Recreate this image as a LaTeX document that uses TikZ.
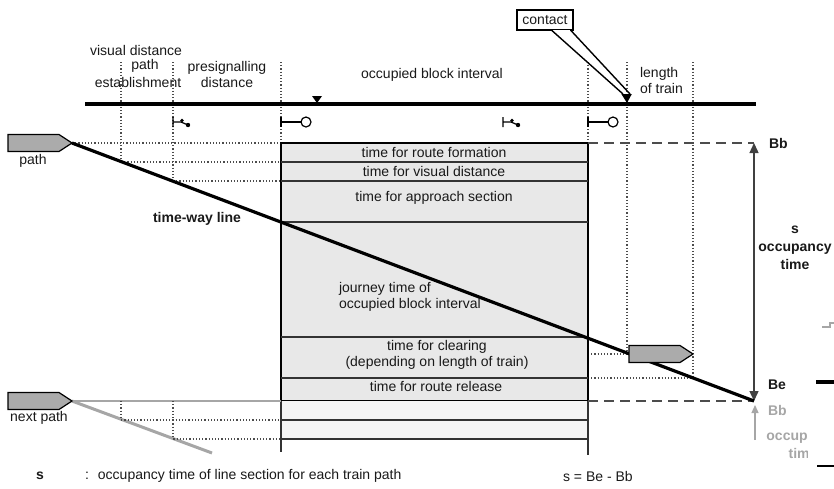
\documentclass[tikz,border=0pt]{standalone}
\usepackage{fontspec}
\setmainfont{Liberation Sans}
\usetikzlibrary{arrows.meta,positioning}

\tikzset{
  train/.pic={
    \draw[fill=black!33, line width=0.6pt] (0,-8.5) -- (51,-8.5) -- (64,0) -- (51,8.5) -- (0,8.5) -- cycle;
  },
  mainsig/.pic={
    \draw[line width=0.6pt] (0,-5) -- (0,5) (0,0) -- (20,0);
    \draw[line width=0.6pt, fill=white] (25,0) circle (2.5pt);
  },
  presig/.pic={
    \draw[line width=0.6pt] (0,-5) -- (0,5) (0,0) -- (8,0) -- (15,3);
    \fill (9,-1.5) circle (0.9pt) (15,3) circle (1.1pt);
  }
}

\begin{document}
\begin{tikzpicture}[x=0.5pt, y=-0.5pt, font=\fontsize{7}{8}\selectfont, text=black!90,
    track/.style={line width=2.2pt},
    guide/.style={densely dotted, line width=0.6pt, black!70},
    row/.style={line width=0.7pt, black!80},
    limit/.style={dash pattern=on 5pt off 3pt, line width=0.9pt, black!70},
    bold/.style={font=\fontsize{7}{9}\selectfont\bfseries},
    ghost/.style={black!35}]
  \useasboundingbox (0,0) rectangle (834,488);

  % key points
  \coordinate (pathtip) at (72,143);
  \coordinate (nexttip) at (72,401);
  \coordinate (Bb) at (754,143);
  \coordinate (Be) at (754,401);
  \coordinate (contactpt) at (627,103);

  % guide lines
  \foreach \x/\y in {121/162, 173/181, 281/143, 588/143, 627/354, 693/378}
    \draw[guide] (\x,62) -- (\x,\y);
  \draw[guide] (pathtip) -- (281,143);
  \draw[guide] (121,162) -- (281,162);
  \draw[guide] (173,181) -- (281,181);
  \draw[guide] (588,354) -- (627,354);
  \draw[guide] (588,378) -- (693,378);

  % occupied block
  \draw[fill=black!9, line width=1.1pt] (281,143) rectangle (588,401);
  \foreach \y in {162,181,222,337,378}
    \draw[row] (281,\y) -- (588,\y);
  \fill[black!4] (281,401) rectangle (588,439);
  \draw[row] (281,420) -- (588,420) (281,439) -- (588,439);
  \draw[line width=0.9pt, black!80] (281,401) -- (281,452) (588,401) -- (588,455);

  % next path
  \draw[ghost, line width=0.8pt] (nexttip) -- (281,401);
  \draw[ghost, line width=1.5pt] (nexttip) -- (212,453);
  \draw[guide] (121,401) -- (121,420) -- (281,420);
  \draw[guide] (173,401) -- (173,439) -- (281,439);

  % track and signals
  \draw[track] (85,104) -- (756,104);
  \fill (312,96) -- (322,96) -- (317,103) -- cycle;
  \pic at (173,122) {presig};
  \pic at (503,122) {presig};
  \pic at (281,122) {mainsig};
  \pic at (588,122) {mainsig};

  % contact
  \node[draw, fill=white, line width=0.8pt, inner sep=2.6pt] (contact) at (545,20) {contact};
  \coordinate (cl) at ([shift={(-2pt,4.5pt)}]contactpt);
  \coordinate (cr) at ([shift={(1.5pt,4.5pt)}]contactpt);
  \draw[white, line width=1pt] ([xshift=4pt]contact.south) -- ([xshift=12.5pt]contact.south);
  \draw[line width=0.7pt] ([xshift=3.5pt]contact.south) -- (cl);
  \draw[line width=0.7pt] ([xshift=13pt]contact.south) -- (cr);
  \fill ([shift={(-2.8pt,4.5pt)}]contactpt) -- ([shift={(2.4pt,4.5pt)}]contactpt) -- (contactpt) -- cycle;

  % limits and occupancy
  \draw[limit] (588,143) -- (Bb);
  \draw[limit] (588,401) -- (Be);
  \draw[line width=0.7pt, black!75, {Triangle[length=5pt, width=4.5pt]}-{Triangle[length=5pt, width=4.5pt]}] (Be) -- (Bb);
  \draw[ghost, line width=0.7pt, -{Triangle[length=4pt, width=3.5pt]}] (755,440) -- (755,405);

  % time-way line and trains
  \draw[line width=1.6pt] (pathtip) -- (Be);
  \pic at (8,143) {train};
  \pic at (8,401) {train};
  \pic at (629,354) {train};

  % labels on top
  \node (visdist) at (136,50) {visual distance};
  \node (pathest) at (145,66) {path};
  \node (establ) at (138,82) {establishment};
  \node[align=center] (presigdist) at (227,74) {presignalling\\distance};
  \node (occblock) at (432,75) {occupied block interval};
  \node[align=left, anchor=west] (length) at (633,80) {length\\of train};

  % labels in the block
  \node (route) at (434,152) {time for route formation};
  \node (visual) at (434,171) {time for visual distance};
  \node (approach) at (434,198) {time for approach section};
  \node[align=left, anchor=west] (journey) at (332,297) {journey time of\\occupied block interval};
  \node[align=center] (clearing) at (437,355) {time for clearing\\(depending on length of train)};
  \node (release) at (436,386) {time for route release};

  % other labels
  \node (pathlbl) at (33,161) {path};
  \node (nextlbl) at (39,418) {next path};
  \node[bold] (timeway) at (197,219) {time-way line};
  \node[bold, anchor=west] (Bblbl) at (762,143) {Bb};
  \node[bold, anchor=west] (Belbl) at (761,385) {Be};
  \node[bold, align=center] (occ) at (795,248) {s\\occupancy\\time};
  \node[bold, ghost, anchor=west] (Bbghost) at (761,410) {Bb};
  \begin{scope}
    \clip (740,395) rectangle (807,470);
    \node[bold, ghost, align=center] (occghost) at (803,446) {occupancy\\time};
  \end{scope}

  % fragments at the right edge
  \draw[ghost, line width=1pt] (822,327) -- (830,327) -- (830,323) -- (834,323);
  \draw[line width=1.6pt] (816,382) -- (834,382);
  \draw[line width=1pt] (817,466) -- (834,466);

  % legend
  \node[bold, anchor=west] (slbl) at (29,476) {s};
  \node[anchor=west] (legend) at (78,476) {:\hspace{4.5pt}occupancy time of line section for each train path};
  \node[anchor=west] (formula) at (556,476) {s = Be - Bb};
\end{tikzpicture}
\end{document}
